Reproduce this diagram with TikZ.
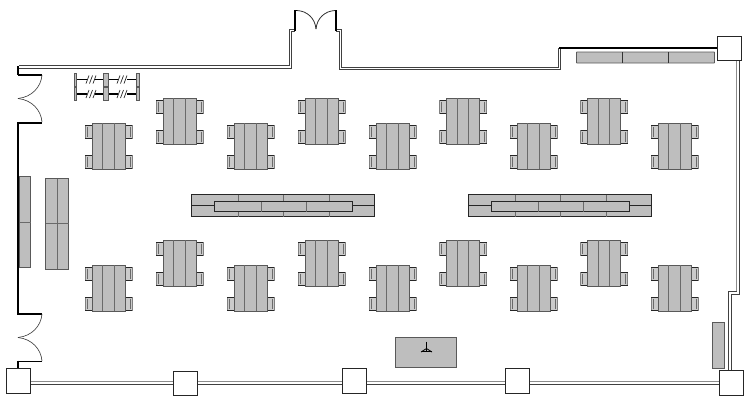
\documentclass[tikz,border=0pt]{standalone}
\usepackage{xcolor}
\usetikzlibrary{calc}

\definecolor{deskgray}{HTML}{BEBEBE}
\definecolor{seamgray}{HTML}{6A6A6A}

\tikzset{
	wallline/.style={draw=black!75, line width=0.8pt, double=white, double distance=1.7pt, line join=miter},
	graywall/.style={draw=black!45, line width=1.3pt},
	darkwall/.style={draw=black!75, line width=0.9pt},
	thickwall/.style={draw=black, line width=2.4pt},
	thinwall/.style={draw=black, line width=1.1pt},
	swing/.style={draw=black!80, line width=0.6pt},
	column/.style={draw=black!85, fill=white, line width=0.65pt},
	top/.style={draw=black!65, fill=deskgray, line width=0.9pt},
	seam/.style={draw=seamgray, line width=0.9pt},
	chair/.style={draw=black!50, fill=deskgray!80, line width=0.7pt},
	chairback/.style={draw=black!85, line width=1pt}
}

\begin{document}
\begin{tikzpicture}[x=1pt, y=-1pt]
	\useasboundingbox (0,0) rectangle (750,405);

	% outer walls
	\begin{scope}
		\draw[wallline] (19,67) -- (290.5,67) -- (290.5,30.5) -- (295,30.5);
		\draw[wallline] (336,30.5) -- (340.5,30.5) -- (340.5,68.5) -- (559.5,68.5) -- (559.5,48);
		\draw[graywall] (736.8,58) -- (736.8,292);
		\draw[darkwall] (739,58) -- (739,294) -- (731,294) -- (731,372);
		\draw[darkwall] (736.8,291.5) -- (728.5,291.5) -- (728.5,372);
		\draw[graywall] (30,381.3) -- (719,381.3);
		\draw[darkwall] (30,384.3) -- (719,384.3);
		\draw[thickwall] (559,48) -- (718,48);
	\end{scope}

	% left wall and doors
	\begin{scope}
		\draw[thickwall] (18,66) -- (18,75);
		\draw[thinwall] (18,75) -- (42,75);
		\draw[thinwall] (18,123) -- (42,123);
		\draw[thickwall] (18,122) -- (18,315);
		\draw[thinwall] (18,314) -- (42,314);
		\draw[thinwall] (18,361.5) -- (42,361.5);
		\draw[thickwall] (18,360.5) -- (18,370);

		\draw[swing] (42,75) .. controls (41,87) and (32,97) .. (18,98.5);
		\draw[swing] (42,122) .. controls (41,110) and (32,100) .. (18,98.5);
		\draw[swing] (42,314) .. controls (41,326) and (32,336) .. (18,337.5);
		\draw[swing] (42,361) .. controls (41,349) and (32,339) .. (18,337.5);
	\end{scope}

	% entrance doors
	\begin{scope}
		\draw[thickwall, line width=1.6pt] (295,10) -- (295,31);
		\draw[thickwall, line width=1.6pt] (336,10) -- (336,31);
		\draw[thinwall] (295,10.5) -- (298,10.5);
		\draw[swing, line width=0.8pt] (297,10.5) .. controls (307,11) and (315,18) .. (316,29);
		\draw[swing, line width=0.8pt] (335,10.5) .. controls (325,11) and (317,18) .. (316,29);
	\end{scope}

	% columns
	\foreach \cx/\cy in {717/36, 719/370.5, 6/368.5, 173/371, 342/368.5, 505/368.5}
	{
		\draw[column] (\cx,\cy) rectangle ++(24,24.5);
	}

	% shelves along the walls
	\begin{scope}
		\draw[top, rounded corners=0.5pt] (576.5,52) rectangle (714.5,63);
		\draw[seam, draw=black!80] (622.5,52) -- (622.5,63);
		\draw[seam, draw=black!80] (668.5,52) -- (668.5,63);

		\draw[top] (19.5,176.5) rectangle (30.5,267.5);
		\draw[seam] (19.5,222) -- (30.5,222);

		\draw[top] (45.5,178.5) rectangle (68.5,269);
		\draw[seam] (57,178.5) -- (57,269);
		\draw[seam] (45.5,223.5) -- (68.5,223.5);

		\draw[top] (712.5,322) rectangle (724,368);
	\end{scope}

	% racks
	\foreach \ry in {79.5,94}
	{
		\draw[black, line width=1.1pt] (75,\ry) -- (137.5,\ry);
		\fill[white] (87,\ry-3) rectangle (95,\ry+3);
		\fill[white] (118,\ry-3) rectangle (127,\ry+3);
		\draw[top, line width=0.6pt] (74,\ry-6.5) rectangle (76.5,\ry+6.5);
		\draw[top, line width=0.6pt] (136.5,\ry-6.5) rectangle (139,\ry+6.5);
		\draw[top, line width=0.6pt] (103.5,\ry-6.5) rectangle (108.5,\ry+6.5);
		\foreach \hx in {87.5,91,94.5,118.5,122,125.5}
		{
			\draw[black!85, line width=0.7pt] (\hx-1.5,\ry+4) -- (\hx+1.5,\ry-4);
		}
	}

	% desks
	\foreach \dx/\dy in {92/123, 163/98, 234/123, 305/98, 376/123, 446.5/98, 517/123, 587.5/98, 658/123,
		92/265, 163/240, 234/265, 305/240, 376/265, 446.5/240, 517/265, 587.5/240, 658/265}
	{
		\begin{scope}[shift={(\dx,\dy)}]
			\foreach \sy in {2.5,32.5}
			{
				\draw[chair] (-7,\sy) rectangle (0,\sy+12.5);
				\draw[chair] (33,\sy) rectangle (40,\sy+12.5);
				\draw[chairback] (0,\sy) -- (-7,\sy);
				\draw[chairback] (0,\sy+12.5) -- (-7,\sy+12.5);
				\draw[chairback] (33,\sy) -- (40,\sy);
				\draw[chairback] (33,\sy+12.5) -- (40,\sy+12.5);
				\draw[seamgray, line width=0.6pt] (-5,\sy+1) -- (-5,\sy+11.5);
				\draw[seamgray, line width=0.6pt] (38,\sy+1) -- (38,\sy+11.5);
			}
			\draw[top] (0,0) rectangle (33,46);
			\draw[seam] (10.5,0) -- (10.5,46);
			\draw[seam] (22,0) -- (22,46);
		\end{scope}
	}

	% long benches
	\foreach \bx in {0,277}
	{
		\begin{scope}[shift={(\bx,0)}]
			\draw[top, draw=black!85] (191.5,194.5) rectangle (374.5,216.5);
			\foreach \x in {238,283.5,329}
			{
				\draw[seam] (\x,194.5) -- (\x,216.5);
			}
			\draw[black!85, line width=0.9pt] (191.5,205.5) -- (374.5,205.5);
			\draw[top, draw=black!85] (214.5,201.5) rectangle (352.5,211.5);
			\foreach \x in {261,306}
			{
				\draw[seam] (\x,201.5) -- (\x,211.5);
			}
		\end{scope}
	}

	% front table
	\begin{scope}
		\draw[top] (395.5,337) rectangle (456,367.5);
		\draw[black, line width=1pt] (426.5,341.5) -- (426.5,350.5);
		\draw[black, line width=0.8pt] (421,352) -- (426.5,348.5) -- (432,352);
		\draw[black, line width=0.7pt] (421.5,351) -- (431.5,351);
	\end{scope}
\end{tikzpicture}
\end{document}
